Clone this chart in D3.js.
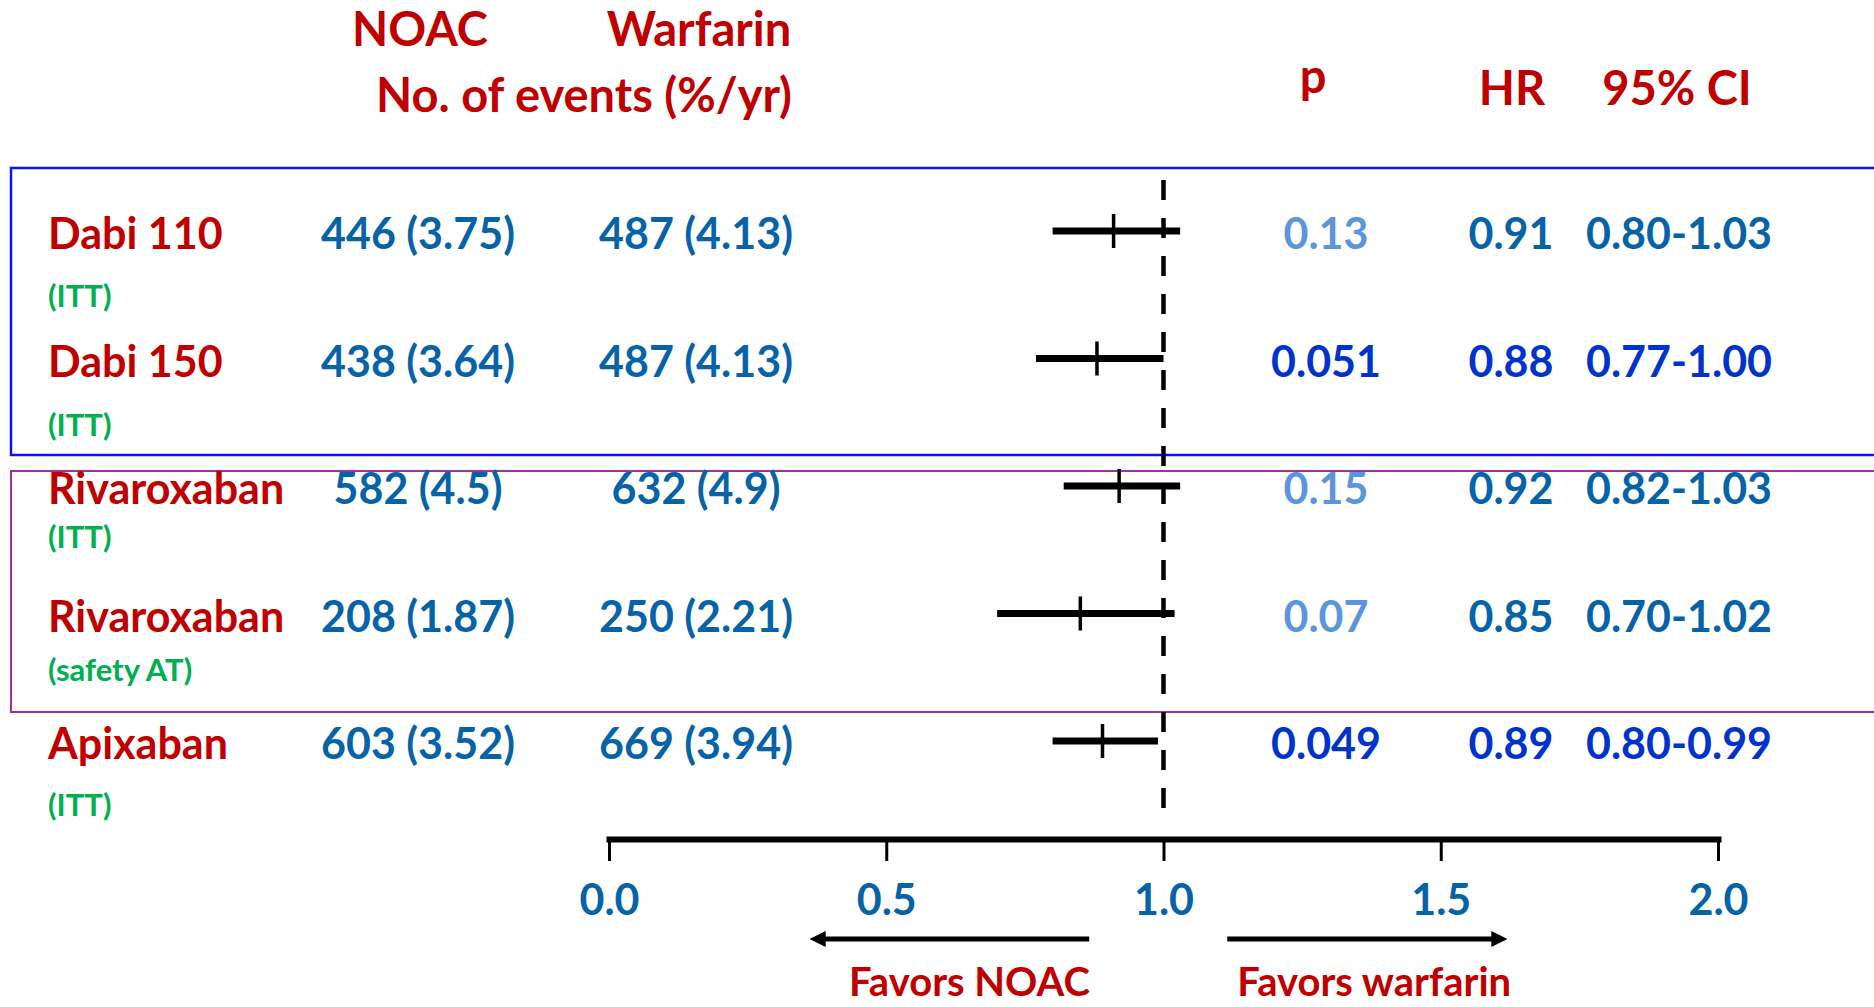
<!DOCTYPE html>
<html>
<head>
<meta charset="utf-8">
<script src="https://cdn.jsdelivr.net/npm/d3@7"></script>
<style>
  html, body { margin: 0; padding: 0; background: #fff; }
  svg text { font-family: Lato, "Open Sans", sans-serif; font-weight: 700; }
</style>
</head>
<body>
<svg id="chart" width="1874" height="1007"></svg>
<script>
// data
let trials = ["Dabi 110", "Dabi 150", "Rivaroxaban", "Rivaroxaban", "Apixaban"];
let analyses = ["(ITT)", "(ITT)", "(ITT)", "(safety AT)", "(ITT)"];
let noacEvents = [446, 438, 582, 208, 603];
let noacRates = [3.75, 3.64, 4.5, 1.87, 3.52];
let warfEvents = [487, 487, 632, 250, 669];
let warfRates = [4.13, 4.13, 4.9, 2.21, 3.94];
let pValues = ["0.13", "0.051", "0.15", "0.07", "0.049"];
let hr = [0.91, 0.88, 0.92, 0.85, 0.89];
let ciLow = [0.80, 0.77, 0.82, 0.70, 0.80];
let ciHigh = [1.03, 1.00, 1.03, 1.02, 0.99];
let ticks = [0, 0.5, 1, 1.5, 2];

let red = "#c00000", green = "#00b050", blue = "#0663a8",
    lightBlue = "#5b95db", darkBlue = "#0033cc";

let svg = d3.select("#chart");
svg.append("rect").attr("width", 1874).attr("height", 1007).attr("fill", "#fff");

let x = d3.scaleLinear().domain([0, 2]).range([609, 1718]);
let y = d3.scalePoint().domain(d3.range(trials.length)).range([249, 759]);
let subOffset = [58, 59, 44, 49, 57];
let fmt = d3.format(".2f");

// group boxes
svg.append("rect")
    .attr("x", 11).attr("y", 168).attr("width", 1880).attr("height", 287)
    .attr("fill", "none").attr("stroke", "#1010f0").attr("stroke-width", 2.5);
svg.append("rect")
    .attr("x", 11).attr("y", 471).attr("width", 1880).attr("height", 241)
    .attr("fill", "none").attr("stroke", "#a030a0").attr("stroke-width", 2);

// headers
let header = (txt, cx, by, size) => svg.append("text")
    .attr("x", cx).attr("y", by).attr("text-anchor", "middle")
    .attr("font-size", size).attr("fill", red).text(txt);
header("NOAC", 420, 46, 47);
header("Warfarin", 699, 46, 47);
header("No. of events (%/yr)", 584, 112, 47);
header("p", 1313, 93, 47);
header("HR", 1512, 105, 47);
header("95% CI", 1677, 105, 47);

// reference line at HR = 1
svg.append("line")
    .attr("x1", x(1)).attr("x2", x(1)).attr("y1", 180).attr("y2", 826)
    .attr("stroke", "#000").attr("stroke-width", 4.5)
    .attr("stroke-dasharray", "20,18");

let rows = svg.append("g").selectAll("g")
    .data(trials.map((t, i) => i))
    .enter().append("g");

rows.append("text")
    .attr("x", 48).attr("y", i => y(i))
    .attr("font-size", 43).attr("fill", red)
    .text(i => trials[i]);

rows.append("text")
    .attr("x", 48).attr("y", i => y(i) + subOffset[i])
    .attr("font-size", 31).attr("fill", green)
    .text(i => analyses[i]);

rows.append("text")
    .attr("x", 418).attr("y", i => y(i)).attr("text-anchor", "middle")
    .attr("font-size", 43).attr("fill", blue)
    .text(i => `${noacEvents[i]} (${noacRates[i]})`);

rows.append("text")
    .attr("x", 696).attr("y", i => y(i)).attr("text-anchor", "middle")
    .attr("font-size", 43).attr("fill", blue)
    .text(i => `${warfEvents[i]} (${warfRates[i]})`);

let strong = i => +pValues[i] < 0.06;

rows.append("text")
    .attr("x", 1326).attr("y", i => y(i)).attr("text-anchor", "middle")
    .attr("font-size", 43).attr("fill", i => strong(i) ? darkBlue : lightBlue)
    .text(i => pValues[i]);

rows.append("text")
    .attr("x", 1511).attr("y", i => y(i)).attr("text-anchor", "middle")
    .attr("font-size", 43).attr("fill", i => strong(i) ? darkBlue : blue)
    .text(i => fmt(hr[i]));

rows.append("text")
    .attr("x", 1679).attr("y", i => y(i)).attr("text-anchor", "middle")
    .attr("font-size", 43).attr("fill", i => strong(i) ? darkBlue : blue)
    .text(i => fmt(ciLow[i]) + "-" + fmt(ciHigh[i]));

// CI whiskers + point estimates
rows.append("line")
    .attr("x1", i => x(ciLow[i])).attr("x2", i => x(ciHigh[i]))
    .attr("y1", i => y(i) - 18).attr("y2", i => y(i) - 18)
    .attr("stroke", "#000").attr("stroke-width", 7);
rows.append("line")
    .attr("x1", i => x(hr[i])).attr("x2", i => x(hr[i]))
    .attr("y1", i => y(i) - 35).attr("y2", i => y(i) - 1)
    .attr("stroke", "#000").attr("stroke-width", 3.5);

// axis
let axis = svg.append("g")
    .attr("transform", "translate(0,839)")
    .call(d3.axisBottom(x).tickValues(ticks).tickSize(22).tickSizeOuter(0)
        .tickFormat(d3.format(".1f")));
axis.select(".domain").attr("stroke-width", 6).attr("stroke-linecap", "square");
axis.selectAll(".tick line").attr("stroke-width", 3);
axis.selectAll(".tick text")
    .attr("y", 76).attr("dy", 0)
    .attr("font-size", 43).attr("fill", blue)
    .style("font-family", "Lato, sans-serif").style("font-weight", 700);

// favours arrows
let defs = svg.append("defs");
defs.append("marker")
    .attr("id", "head").attr("viewBox", "0 0 10 10")
    .attr("refX", 2).attr("refY", 5)
    .attr("markerWidth", 16).attr("markerHeight", 16)
    .attr("markerUnits", "userSpaceOnUse").attr("orient", "auto")
    .append("path").attr("d", "M0,0L10,5L0,10Z").attr("fill", "#000");

let arrow = (from, to) => svg.append("line")
    .attr("x1", x(from)).attr("x2", x(to)).attr("y1", 939).attr("y2", 939)
    .attr("stroke", "#000").attr("stroke-width", 5)
    .attr("marker-end", "url(#head)");
arrow(0.866, 0.385);
arrow(1.115, 1.597);

svg.append("text").attr("x", x(0.65)).attr("y", 996)
    .attr("text-anchor", "middle").attr("font-size", 40).attr("fill", red)
    .text("Favors NOAC");
svg.append("text").attr("x", x(1.38)).attr("y", 996)
    .attr("text-anchor", "middle").attr("font-size", 40).attr("fill", red)
    .text("Favors warfarin");
</script>
</body>
</html>
